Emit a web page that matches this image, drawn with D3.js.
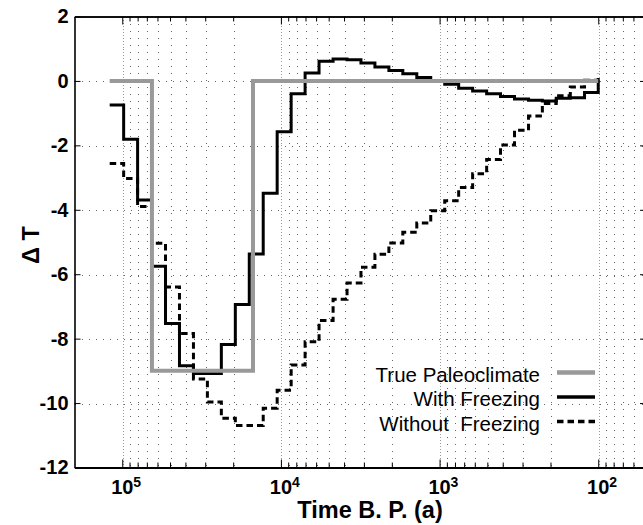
<!DOCTYPE html>
<html>
<head>
<meta charset="utf-8">
<script src="https://cdn.jsdelivr.net/npm/d3@7/dist/d3.min.js"></script>
<style>
  body { margin: 0; background: #fff; }
  svg { display: block; font-family: "Liberation Sans", Arial, Helvetica, sans-serif; }
  .axis text { font-weight: bold; font-size: 20px; fill: #000; }
  .axis line { stroke: #000; stroke-width: 1; }
  .axis path { stroke: #000; stroke-width: 1.6; }
  .grid line { stroke: #666; stroke-width: 1; stroke-dasharray: 1,6; shape-rendering: crispEdges; }
  .grid line.major { stroke: #999; stroke-dasharray: 1,2; }
  .axis-title { font-weight: bold; font-size: 23.5px; }
  .legend text { font-size: 20.5px; white-space: pre; }
</style>
</head>
<body>
<div id="chart"></div>
<script>
// step edges of the reconstruction (years B.P.)
const stepTimes = [120000, 98000, 80040, 65360, 53380, 43590, 35590, 29070, 23740, 19380,
  15830, 12930, 10560, 8620, 7040, 5750, 4690, 3830, 3130, 2556,
  2087, 1705, 1392, 1137, 928, 758, 619, 505, 413, 337,
  275, 225, 184, 150, 122, 100];

// delta T for each step (last value = end point of the stairs)
const withFreezing = [-0.75, -1.81, -3.70, -5.75, -7.53, -8.84, -9.08, -9.08, -8.18, -6.94,
  -5.37, -3.49, -1.58, -0.40, 0.25, 0.61, 0.68, 0.66, 0.56, 0.43,
  0.32, 0.22, 0.11, 0.00, -0.10, -0.23, -0.31, -0.40, -0.48, -0.56,
  -0.60, -0.62, -0.54, -0.52, -0.36, 0.0];

const withoutFreezing = [-2.56, -3.03, -3.90, -5.04, -6.40, -7.84, -9.25, -9.97, -10.47, -10.70,
  -10.70, -10.16, -9.60, -8.82, -8.10, -7.44, -6.78, -6.27, -5.78, -5.38,
  -5.03, -4.70, -4.41, -4.03, -3.72, -3.31, -2.88, -2.44, -1.99, -1.53,
  -1.09, -0.70, -0.46, -0.19, 0.02, 0.22];

// true paleoclimate
const paleoTimes = [120000, 65000, 15000, 100];
const paleoValues = [0, -9, 0, 0];

const yTicks = [2, 0, -2, -4, -6, -8, -10, -12];
const xMajorTicks = [1e5, 1e4, 1e3, 1e2];
const xTickBase = ['10', '10', '10', '10'];
const xTickExponents = ['5', '4', '3', '2'];
const legendLabels = ['True Paleoclimate', 'With Freezing', 'Without  Freezing'];

const config = {
  containerWidth: 643,
  containerHeight: 525,
  margin: {top: 16.5, right: -3, bottom: 57.5, left: 74.5}
};
const width = config.containerWidth - config.margin.left - config.margin.right;
const height = config.containerHeight - config.margin.top - config.margin.bottom;

const svg = d3.select('#chart').append('svg')
    .attr('width', config.containerWidth)
    .attr('height', config.containerHeight);

const chart = svg.append('g')
    .attr('transform', `translate(${config.margin.left},${config.margin.top})`);

// time runs right to left, so domain is reversed
const x = d3.scaleLog().domain([2e5, 50]).range([0, width]);
const y = d3.scaleLinear().domain([-12, 2]).range([height, 0]);

const minorTicks = x.ticks().filter(t => xMajorTicks.indexOf(t) < 0 && t < 2e5 && t > 50);

// dotted grid
const grid = chart.append('g').attr('class', 'grid');
grid.selectAll('.vminor')
    .data(minorTicks)
  .join('line')
    .attr('class', 'vminor')
    .attr('x1', d => Math.round(x(d)) + 0.5)
    .attr('x2', d => Math.round(x(d)) + 0.5)
    .attr('y1', 0)
    .attr('y2', height);
grid.selectAll('.vmajor')
    .data(xMajorTicks)
  .join('line')
    .attr('class', 'major vmajor')
    .attr('x1', d => Math.round(x(d)) + 0.5)
    .attr('x2', d => Math.round(x(d)) + 0.5)
    .attr('y1', 0)
    .attr('y2', height);
grid.selectAll('.hgrid')
    .data(yTicks.filter(d => d > -12 && d < 2))
  .join('line')
    .attr('class', 'hgrid')
    .attr('x1', 0)
    .attr('x2', width)
    .attr('y1', d => Math.round(y(d)) + 0.5)
    .attr('y2', d => Math.round(y(d)) + 0.5);

// axes, ticks pointing inward on all four sides
chart.append('g').attr('class', 'axis')
    .attr('transform', `translate(0,${height})`)
    .call(d3.axisBottom(x).tickValues(minorTicks).tickSize(-5).tickSizeOuter(0).tickFormat(''));
chart.append('g').attr('class', 'axis')
    .attr('transform', `translate(0,${height})`)
    .call(d3.axisBottom(x).tickValues(xMajorTicks).tickSize(-8).tickSizeOuter(0).tickFormat(''))
    .select('.domain').style('stroke-width', 2.2);
chart.append('g').attr('class', 'axis')
    .call(d3.axisTop(x).tickValues(minorTicks).tickSize(-5).tickSizeOuter(0).tickFormat(''));
chart.append('g').attr('class', 'axis')
    .call(d3.axisTop(x).tickValues(xMajorTicks).tickSize(-8).tickSizeOuter(0).tickFormat(''));
chart.append('g').attr('class', 'axis')
    .call(d3.axisLeft(y).tickValues(yTicks).tickSize(-6).tickSizeOuter(0).tickPadding(6).tickFormat(d => String(d)));
chart.append('g').attr('class', 'axis')
    .attr('transform', `translate(${width},0)`)
    .call(d3.axisRight(y).tickValues(yTicks).tickSize(-6).tickSizeOuter(0).tickFormat(''));

// x tick labels as 10 with superscript exponent
const xLabels = chart.append('g').attr('class', 'axis');
xLabels.selectAll('.base')
    .data(xMajorTicks)
  .join('text')
    .attr('class', 'base')
    .attr('x', d => x(d))
    .attr('y', height + 26)
    .attr('text-anchor', 'middle')
    .text((d, i) => xTickBase[i]);
xLabels.selectAll('.exp')
    .data(xMajorTicks)
  .join('text')
    .attr('class', 'exp')
    .attr('x', d => x(d) + 11)
    .attr('y', height + 19)
    .style('font-size', '14px')
    .text((d, i) => xTickExponents[i]);

// axis titles
svg.append('text')
    .attr('class', 'axis-title')
    .attr('x', 370)
    .attr('y', 518)
    .attr('text-anchor', 'middle')
    .text('Time B. P. (a)');
svg.append('text')
    .attr('class', 'axis-title')
    .attr('transform', 'translate(39,245) rotate(-90)')
    .attr('text-anchor', 'middle')
    .text('\u0394 T');

// stairs
const stairs = d3.line()
    .x(d => x(d.t))
    .y(d => y(d.v))
    .curve(d3.curveStepAfter);

const withoutData = stepTimes.map((t, i) => ({t: t, v: withoutFreezing[i]}));
const withData = stepTimes.map((t, i) => ({t: t, v: withFreezing[i]}));
const paleoData = paleoTimes.map((t, i) => ({t: t, v: paleoValues[i]}));

const styles = [
  {stroke: '#999', width: 4, dash: null},
  {stroke: '#000', width: 3, dash: null},
  {stroke: '#000', width: 3, dash: '6.5,4'}
];

chart.append('path')
    .datum(withoutData)
    .attr('fill', 'none')
    .attr('stroke', styles[2].stroke)
    .attr('stroke-width', styles[2].width)
    .attr('stroke-dasharray', styles[2].dash)
    .attr('d', stairs);
chart.append('path')
    .datum(withData)
    .attr('fill', 'none')
    .attr('stroke', styles[1].stroke)
    .attr('stroke-width', styles[1].width)
    .attr('d', stairs);
chart.append('path')
    .datum(paleoData)
    .attr('fill', 'none')
    .attr('stroke', styles[0].stroke)
    .attr('stroke-width', styles[0].width)
    .attr('d', stairs);

// legend (no box)
const legend = svg.append('g').attr('class', 'legend');
const rows = legend.selectAll('g')
    .data(legendLabels)
  .join('g')
    .attr('transform', (d, i) => `translate(0,${372.5 + i * 24.5})`);
rows.append('text')
    .attr('x', 540)
    .attr('y', 5)
    .attr('dy', '0.2em')
    .attr('text-anchor', 'end')
    .text(d => d);
rows.append('line')
    .attr('x1', 557)
    .attr('x2', 595)
    .attr('y1', 0)
    .attr('y2', 0)
    .attr('stroke', (d, i) => styles[i].stroke)
    .attr('stroke-width', (d, i) => styles[i].width + 0.5)
    .attr('stroke-dasharray', (d, i) => styles[i].dash);
</script>
</body>
</html>
